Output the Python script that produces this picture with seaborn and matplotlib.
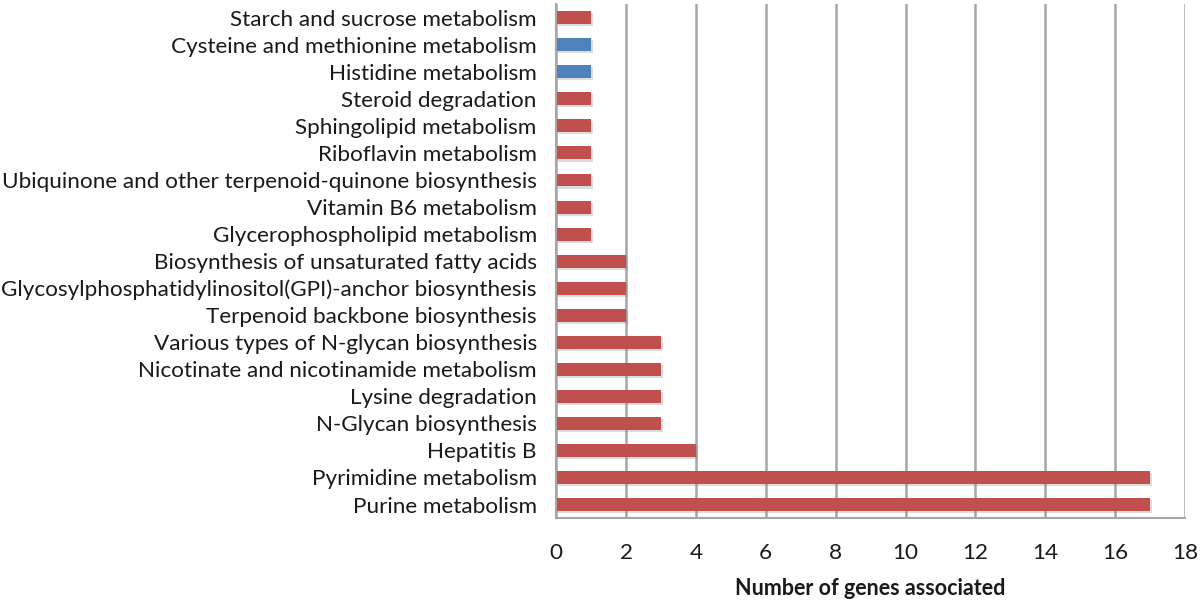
#! /usr/bin/env python3
# coding: utf-8
"""
Horizontal bar chart: number of genes associated per KEGG pathway
Output: out.png
"""
import numpy as np
import pandas as pd
import matplotlib
matplotlib.use('Agg')
import matplotlib.pyplot as plt
import matplotlib.patheffects as pe
import seaborn as sb

# pathways, listed top to bottom as in the figure
pathways = [
    'Starch and sucrose metabolism',
    'Cysteine and methionine metabolism',
    'Histidine metabolism',
    'Steroid degradation',
    'Sphingolipid metabolism',
    'Riboflavin metabolism',
    'Ubiquinone and other terpenoid-quinone biosynthesis',
    'Vitamin B6 metabolism',
    'Glycerophospholipid metabolism',
    'Biosynthesis of unsaturated fatty acids',
    'Glycosylphosphatidylinositol(GPI)-anchor biosynthesis',
    'Terpenoid backbone biosynthesis',
    'Various types of N-glycan biosynthesis',
    'Nicotinate and nicotinamide metabolism',
    'Lysine degradation',
    'N-Glycan biosynthesis',
    'Hepatitis B',
    'Pyrimidine metabolism',
    'Purine metabolism',
]
n_genes = [1, 1, 1, 1, 1, 1, 1, 1, 1, 2, 2, 2, 3, 3, 3, 3, 4, 17, 17]
group = ['red', 'blue', 'blue'] + ['red'] * 16

palette = {'red': '#C0504D', 'blue': '#4F81BD'}

if __name__ == '__main__':
    sb.set_style('white')
    plt.rcParams['font.family'] = ['Lato', 'DejaVu Sans']

    data = pd.DataFrame({'pathway': pathways, 'genes': n_genes, 'group': group})

    fig, ax = plt.subplots(figsize=(12, 6.01), dpi=100)
    fig.subplots_adjust(left=0.4635, right=0.9875, top=0.993, bottom=0.138)

    sb.barplot(
        data=data,
        x='genes',
        y='pathway',
        hue='group',
        palette=palette,
        order=pathways,
        dodge=False,
        width=0.48,
        saturation=1,
        linewidth=0,
        legend=False,
        ax=ax,
    )
    for bar in ax.patches:
        bar.set_edgecolor('none')
        bar.set_path_effects([
            pe.SimplePatchShadow(offset=(1.5, -1.5), alpha=0.25, shadow_rgbFace='#777777'),
            pe.Normal(),
        ])

    # axes & grid
    ax.set_xlim(0, 18)
    ax.set_ylim(len(pathways) - 0.5, -0.5)
    ax.set_xticks(np.arange(0, 19, 2))
    ax.grid(axis='x', which='major', color='#A6A6A6', linewidth=1.8)
    ax.set_axisbelow(True)
    for side in ['top', 'right']:
        ax.spines[side].set_visible(False)
    for side in ['left', 'bottom']:
        ax.spines[side].set_color('#A6A6A6')
        ax.spines[side].set_linewidth(1.5)

    # Excel-like ticks between categories on y, below axis on x
    ax.set_yticks(np.arange(-0.5, len(pathways), 1.0), minor=True)
    ax.tick_params(axis='y', which='major', length=0, pad=14, labelsize=16.2, labelcolor='#1a1a1a')
    ax.tick_params(axis='y', which='minor', length=6, width=1.5, color='#A6A6A6', direction='out')
    ax.tick_params(axis='x', which='major', length=6, width=1.5, color='#A6A6A6',
                   direction='out', pad=12, labelsize=16.2, labelcolor='#1a1a1a')

    ax.set_ylabel('')
    ax.set_xlabel('Number of genes associated', fontsize=15.5, fontweight='bold', labelpad=11,
                  color='#1a1a1a')

    plt.savefig('out.png', dpi=100)
